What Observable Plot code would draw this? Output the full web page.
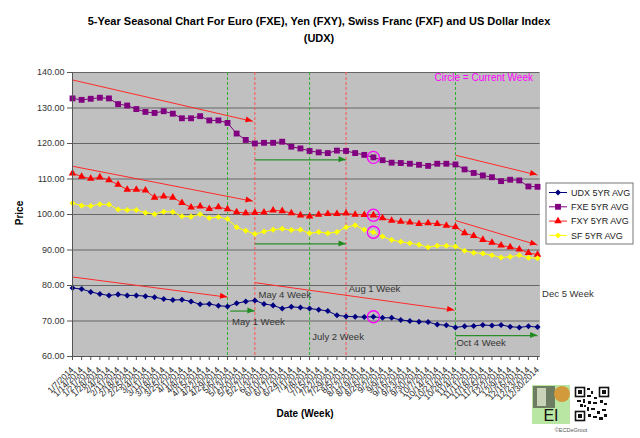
<!DOCTYPE html>
<html><head><meta charset="utf-8">
<script src="https://cdn.jsdelivr.net/npm/d3@7"></script>
<script src="https://cdn.jsdelivr.net/npm/@observablehq/plot@0.6"></script>
<style>
body{margin:0;background:#fff;}
#chart{position:relative;width:640px;height:438px;}
svg{font-family:"Liberation Sans",Arial,sans-serif;}
</style></head><body><div id="chart"></div>
<script>
// ---- data ----
const weeks = ["1/7/2014","1/14/2014","1/21/2014","1/28/2014","2/4/2014","2/11/2014","2/18/2014","2/25/2014","3/4/2014","3/11/2014","3/18/2014","3/25/2014","4/1/2014","4/8/2014","4/15/2014","4/22/2014","4/29/2014","5/6/2014","5/13/2014","5/20/2014","5/27/2014","6/3/2014","6/10/2014","6/17/2014","6/24/2014","7/1/2014","7/8/2014","7/15/2014","7/22/2014","7/29/2014","8/5/2014","8/12/2014","8/19/2014","8/26/2014","9/2/2014","9/9/2014","9/16/2014","9/23/2014","9/30/2014","10/7/2014","10/14/2014","10/21/2014","10/28/2014","11/4/2014","11/11/2014","11/18/2014","11/25/2014","12/2/2014","12/9/2014","12/16/2014","12/23/2014","12/30/2014"];
const udx = [79.3,79.0,78.2,77.6,77.2,77.5,77.2,77.2,77.0,76.7,76.2,75.9,76.0,75.5,74.7,74.8,74.3,74.1,75.0,75.5,75.8,74.8,74.4,73.5,74.0,73.8,73.5,73.2,72.8,71.6,71.3,71.2,71.1,71.2,70.9,70.9,70.3,70.0,69.8,69.7,69.0,68.8,68.2,68.5,68.6,68.9,68.7,68.9,68.4,68.2,68.5,68.3];
const fxe = [132.7,132.3,132.6,132.9,132.7,131.1,130.7,129.7,128.9,128.6,129.1,128.4,127.1,127.1,127.7,126.5,126.5,125.8,122.8,121.0,120.0,120.2,120.2,120.5,119.1,118.6,117.9,117.5,117.3,118.0,117.9,117.3,116.8,116.1,115.3,114.6,114.5,114.3,114.0,113.7,114.3,114.3,114.1,112.7,111.7,111.0,110.5,109.4,109.8,109.6,107.9,107.8];
const fxy = [111.6,110.7,110.1,110.5,109.7,108.4,107.0,107.0,106.8,104.8,105.1,104.8,103.3,102.0,102.3,101.6,102.1,101.5,100.7,100.4,100.5,100.6,101.2,101.0,100.4,99.8,99.5,100.0,100.2,100.2,100.3,100.0,99.9,99.8,99.0,98.3,98.0,97.8,97.4,97.6,97.4,96.9,96.5,94.8,94.0,92.9,92.1,91.3,90.8,90.2,89.2,88.7];
const sf  = [103.2,102.5,102.4,102.9,102.8,101.4,101.3,101.3,100.5,100.1,100.8,100.7,99.5,99.4,100.1,99.0,99.3,98.7,96.4,95.4,94.5,95.2,95.7,96.0,95.6,95.7,94.7,95.1,94.7,95.1,96.4,97.0,95.7,95.0,93.8,92.8,92.3,91.9,91.5,90.8,91.2,91.2,91.0,89.8,89.2,89.0,88.5,87.9,88.1,88.5,87.8,87.7];
const seriesNames = ["UDX 5YR AVG","FXE 5YR AVG","FXY 5YR AVG","SF 5YR AVG"];
const yTicks = [60,70,80,90,100,110,120,130,140];
const greenWeeks = [17,26,42];
const redWeeks = [20,30];
const currentWeek = 33;
// red trend arrows (week index, price)
const trendX1 = [0,0,0,20,42,42];
const trendY1 = [137.9,113.6,82.4,80.8,116.7,98.3];
const trendX2 = [19.8,19.8,17,41.9,51,51];
const trendY2 = [126.2,103.7,76.7,73.0,111.1,91.4];
// green horizontal arrows
const flatX1 = [17.3,20,20,42];
const flatX2 = [20,30,30,51];
const flatY = [72.8,115.4,91.7,65.9];
// week notes
const noteText = ["May 1 Week","May 4 Week","July 2 Week","Aug 1 Week","Oct 4 Week","Dec 5 Week"];
const noteX = [17.5,20.4,26.3,30.3,42.1,51.5];
const noteY = [69.6,77.2,65.6,78.9,63.9,77.7];

// ---- build ----
const idx = weeks.map((w,i)=>i);
const valuesBy = [udx,fxe,fxy,sf];
const colors = ["#000080","#800080","#ff0000","#ffff00"];
const lineColors = ["#000080","#800080","#ff2020","#ffff00"];
const symbols = ["square","square","triangle","square"];
const radii = [2.4,3.3,2.8,2.4];
const rotates = [45,0,0,45];
const RED = "#ff2a2a", GREEN = "#2a8f2a";

const marks = [
  Plot.frame({fill:"#c0c0c0"}),
  Plot.gridY(yTicks,{stroke:"#666",strokeOpacity:1}),
  Plot.ruleX(greenWeeks,{stroke:"#2fb02f",strokeDasharray:"3,2"}),
  Plot.ruleX(redWeeks,{stroke:"#ff5050",strokeDasharray:"3,2"}),
];
valuesBy.forEach((vals,s)=>{
  marks.push(Plot.line(vals,{x:(d,i)=>i,y:d=>d,stroke:lineColors[s],strokeWidth:1}));
});
valuesBy.forEach((vals,s)=>{
  marks.push(Plot.dot(vals,{x:(d,i)=>i,y:d=>d,symbol:symbols[s],r:radii[s],fill:colors[s],stroke:"none",rotate:rotates[s]}));
});
marks.push(
  Plot.link(trendX1,{x1:d=>d,y1:(d,i)=>trendY1[i],x2:(d,i)=>trendX2[i],y2:(d,i)=>trendY2[i],stroke:RED,strokeWidth:1}),
  Plot.link(flatX1,{x1:d=>d,y1:(d,i)=>flatY[i],x2:(d,i)=>flatX2[i],y2:(d,i)=>flatY[i],stroke:GREEN,strokeWidth:1.2}),
  Plot.dot(valuesBy.map(v=>v[currentWeek]),{x:()=>currentWeek,y:d=>d,r:6,stroke:"#ff00ff",strokeWidth:1.3,fill:"none"}),
  Plot.text(noteText,{x:(d,i)=>noteX[i],y:(d,i)=>noteY[i],text:d=>d,textAnchor:"start",fontSize:9.5,fill:"#333"}),
  Plot.text(["Circle = Current Week"],{x:()=>50.5,y:()=>138.6,text:d=>d,textAnchor:"end",fontSize:10,fill:"#ff00ff"}),
  Plot.ruleY([60],{stroke:"#555"}),
  Plot.ruleX([0],{stroke:"#555"}),
  Plot.axisY(yTicks,{tickFormat:d=>d.toFixed(2),fontSize:9,tickSize:5,tickPadding:3,label:null,stroke:"#555",fill:"#333"}),
  Plot.axisX(idx,{tickFormat:i=>weeks[i],tickRotate:-45,fontSize:8.5,tickSize:4,tickPadding:8,label:null,stroke:"#555",fill:"#222"})
);

const plot = Plot.plot({
  width:640,height:438,
  marginTop:72,marginBottom:82,marginLeft:72,marginRight:100.5,
  x:{domain:[0,51.27]},
  y:{domain:[60,140]},
  style:{fontFamily:"'Liberation Sans',Arial,sans-serif",background:"white",overflow:"visible",color:"#333"},
  marks
});
document.getElementById("chart").appendChild(plot);

const svg = d3.select(plot);
const xs = plot.scale("x"), ys = plot.scale("y");
// filled arrow heads at the end of each arrow, placed with Plot's scales
const heads = svg.append("g");
function head(x1,y1,x2,y2,color){
  const px1 = xs.apply(x1), py1 = ys.apply(y1), px2 = xs.apply(x2), py2 = ys.apply(y2);
  const a = Math.atan2(py2-py1, px2-px1)*180/Math.PI;
  heads.append("path").attr("d","M0,0L-7,-3L-7,3Z").attr("fill",color)
    .attr("transform",`translate(${px2},${py2}) rotate(${a})`);
}
trendX1.forEach((x,i)=>head(x,trendY1[i],trendX2[i],trendY2[i],"#ff0000"));
flatX1.forEach((x,i)=>head(x,flatY[i],flatX2[i],flatY[i],"#1f8a1f"));

// titles
const t = svg.append("g").attr("font-family","'Liberation Sans',Arial,sans-serif").attr("fill","#000");
t.append("text").attr("x",319).attr("y",25).attr("text-anchor","middle").attr("font-size",11).attr("font-weight","bold")
  .text("5-Year Seasonal Chart For Euro (FXE), Yen (FXY), Swiss Franc (FXF) and US Dollar Index");
t.append("text").attr("x",319).attr("y",42).attr("text-anchor","middle").attr("font-size",11).attr("font-weight","bold").text("(UDX)");
t.append("text").attr("transform","translate(19,213) rotate(-90)").attr("text-anchor","middle").attr("dy","0.35em")
  .attr("font-size",10).attr("font-weight","bold").text("Price");
t.append("text").attr("x",305).attr("y",417).attr("text-anchor","middle").attr("font-size",10).attr("font-weight","bold").text("Date (Week)");

// legend
const lg = svg.append("g").attr("transform","translate(546,183)").attr("font-family","'Liberation Sans',Arial,sans-serif").attr("text-anchor","start");
lg.append("rect").attr("width",87).attr("height",61).attr("fill","white").attr("stroke","#777");
const sym = {square:d3.symbolSquare,triangle:d3.symbolTriangle};
seriesNames.forEach((name,s)=>{
  const y = 9.5 + s*14.3;
  lg.append("line").attr("x1",3).attr("x2",21).attr("y1",y).attr("y2",y).attr("stroke",lineColors[s]);
  lg.append("path").attr("d",d3.symbol(sym[symbols[s]],Math.PI*radii[s]*radii[s])())
    .attr("transform",`translate(12,${y}) rotate(${rotates[s]})`).attr("fill",colors[s]);
  lg.append("text").attr("x",25).attr("y",y).attr("dy","0.35em").attr("text-anchor","start").attr("font-size",9).attr("fill","#222").text(name);
});

// logo & QR
const lo = svg.append("g");
lo.append("rect").attr("x",532).attr("y",385).attr("width",38).attr("height",39).attr("fill","#b9e6a3");
lo.append("rect").attr("x",533).attr("y",386).attr("width",22).attr("height",22).attr("fill","#6d7d62");
lo.append("rect").attr("x",537).attr("y",388).attr("width",9).attr("height",18).attr("fill","#c9d3b8");
lo.append("circle").attr("cx",562).attr("cy",394).attr("r",8).attr("fill","#d39a3c");
lo.append("text").attr("x",551).attr("y",421).attr("text-anchor","middle").attr("font-size",16).attr("font-family","'Liberation Sans',Arial").attr("fill","#111").text("EI");
const qr = lo.append("g").attr("transform","translate(575,387)");
qr.append("rect").attr("width",34).attr("height",34).attr("fill","#fff");
[[0,0],[24,0],[0,24]].forEach(([x,y])=>{
  qr.append("rect").attr("x",x+0.5).attr("y",y+0.5).attr("width",9).attr("height",9).attr("fill","none").attr("stroke","#111").attr("stroke-width",1.6);
  qr.append("rect").attr("x",x+3).attr("y",y+3).attr("width",4).attr("height",4).attr("fill","#111");
});
const qrBlocks = [[12,1,3,2],[16,4,2,3],[12,8,4,2],[19,10,3,2],[2,13,4,2],[8,12,2,4],[13,14,3,3],[18,15,4,2],[25,13,3,3],[29,16,3,2],[12,20,2,4],[16,21,4,2],[22,24,3,3],[27,22,4,2],[13,27,3,3],[18,29,4,2],[24,30,4,3],[29,27,3,3],[5,17,3,3],[9,18,2,2]];
qrBlocks.forEach(([x,y,w,h])=>qr.append("rect").attr("x",x).attr("y",y).attr("width",w).attr("height",h).attr("fill","#111"));
lo.append("text").attr("x",571).attr("y",432).attr("text-anchor","middle").attr("font-size",5.5).attr("font-family","'Liberation Sans',Arial").attr("fill","#555").text("©ECDeGroot");
</script></body></html>
